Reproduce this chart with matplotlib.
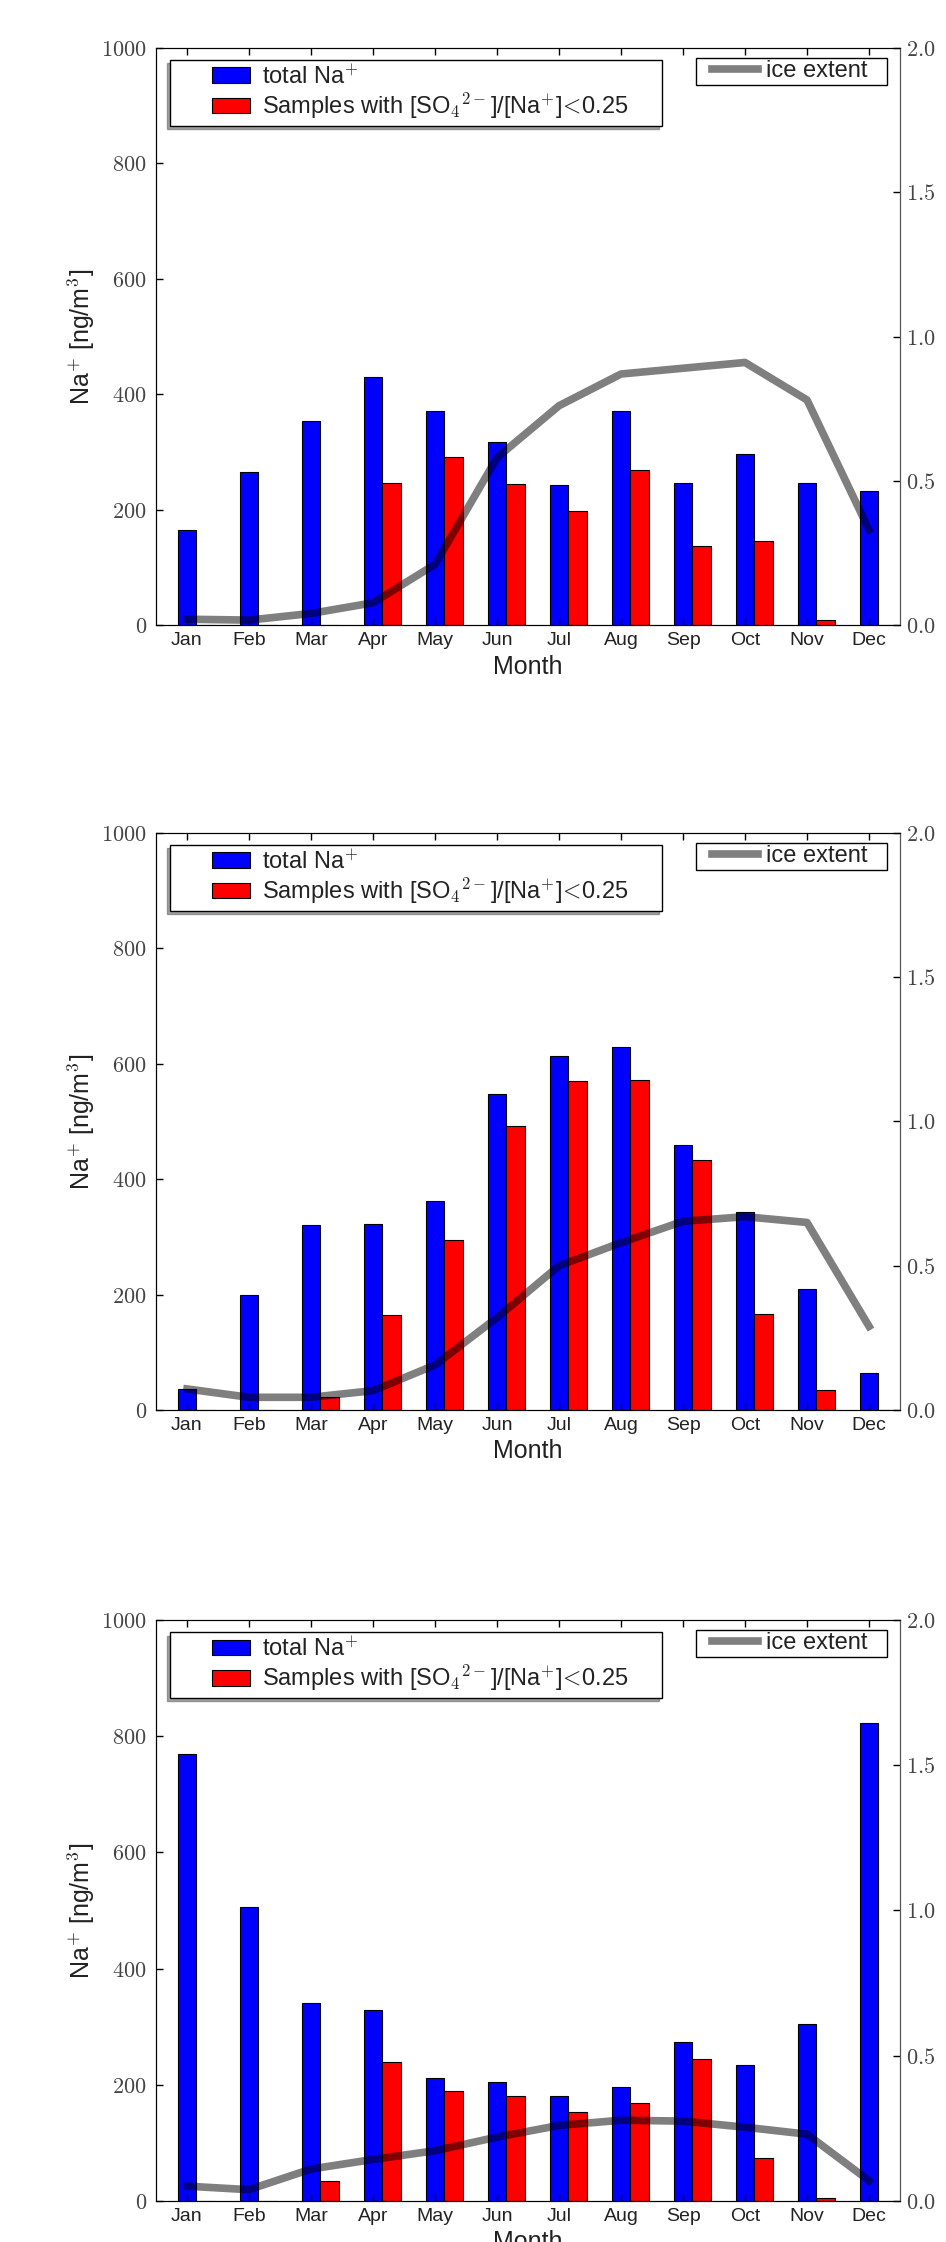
import matplotlib
matplotlib.use('Agg')
import matplotlib.pyplot as plt
from matplotlib.container import BarContainer
from matplotlib.lines import Line2D
from matplotlib.legend_handler import HandlerPatch, HandlerLine2D, update_from_first_child
from matplotlib.ticker import FuncFormatter
import numpy as np

months = ['Jan', 'Feb', 'Mar', 'Apr', 'May', 'Jun',
          'Jul', 'Aug', 'Sep', 'Oct', 'Nov', 'Dec']

# top panel
na_total_1 = [164, 265, 353, 429, 371, 317, 242, 371, 246, 296, 246, 233]
na_low_1 = [0, 0, 0, 246, 292, 244, 198, 269, 137, 146, 8, 0]
ice_1 = [0.02, 0.017, 0.04, 0.077, 0.21, 0.58, 0.76, 0.87, 0.89, 0.91, 0.78, 0.33]

# middle panel
na_total_2 = [37, 200, 321, 323, 363, 548, 614, 629, 460, 344, 210, 64]
na_low_2 = [0, 0, 22, 165, 294, 493, 571, 572, 433, 167, 35, 0]
ice_2 = [0.073, 0.044, 0.044, 0.067, 0.156, 0.32, 0.50, 0.58, 0.654, 0.67, 0.65, 0.29]

# bottom panel
na_total_3 = [769, 506, 340, 328, 211, 205, 180, 197, 273, 234, 305, 823]
na_low_3 = [0, 0, 35, 240, 190, 180, 153, 168, 244, 74, 5, 0]
ice_3 = [0.051, 0.039, 0.11, 0.143, 0.173, 0.22, 0.26, 0.278, 0.275, 0.254, 0.23, 0.07]

panels = [(na_total_1, na_low_1, ice_1),
          (na_total_2, na_low_2, ice_2),
          (na_total_3, na_low_3, ice_3)]

plt.rcParams['font.family'] = ['Liberation Sans', 'DejaVu Sans']
plt.rcParams['mathtext.fontset'] = 'cm'

fig = plt.figure(figsize=(9.46, 22.42), dpi=100)
boxes = [[0.1649, 0.72123, 0.7865, 0.25736],
         [0.1649, 0.37110, 0.7865, 0.25736],
         [0.1649, 0.01829, 0.7865, 0.25914]]

x = np.arange(len(months))
w = 0.3

for (total, low, ice), box in zip(panels, boxes):
    ax = fig.add_axes(box)
    ax.bar(x, total, w, color='blue', edgecolor='k', linewidth=0.8,
           label='total Na$^{+}$')
    ax.bar(x + w, low, w, color='red', edgecolor='k', linewidth=0.8,
           label=r'Samples with [SO$_4$$^{2-}$]/[Na$^{+}$]$\!<\!$0.25')
    ax.set_xlim(-0.5, 11.5)
    ax.set_ylim(0, 1000)
    ax.set_xticks(x)
    ax.set_xticklabels(months)
    ax.set_yticks(range(0, 1001, 200))
    ax.yaxis.set_major_formatter(FuncFormatter(lambda v, p: '$%d$' % v))
    ax.tick_params(direction='in', length=5, width=1, top=True, right=False)
    ax.tick_params(axis='x', labelsize=14, pad=5, labelcolor='#222222')
    ax.tick_params(axis='y', labelsize=16, pad=6.5, labelcolor='#444444')
    ax.set_xlabel('Month', fontsize=18, color='#222222', labelpad=4)
    ax.set_ylabel('Na$^{+}$ [ng/m$^{3}$]', fontsize=18, color='#222222', labelpad=3)
    for s in ax.spines.values():
        s.set_color('#222222')

    ax2 = ax.twinx()
    ax2.plot(x, ice, color='k', alpha=0.5, linewidth=5.5, label='ice extent')
    ax2.set_ylim(0, 2.0)
    ax2.set_yticks(np.arange(0, 2.01, 0.5))
    ax2.yaxis.set_major_formatter(FuncFormatter(lambda v, p: '$%.1f$' % v))
    ax2.tick_params(axis='y', direction='in', length=5, width=1,
                    labelsize=16, pad=4.5, labelcolor='#444444')
    ax2.spines['right'].set_color('#555555')

    bar_handler = HandlerPatch(xpad=1.58, update_func=update_from_first_child)
    leg1 = ax.legend(loc='upper left', bbox_to_anchor=(0.0188, 0.9792, 0.6613, 0),
                     mode='expand', borderaxespad=0, borderpad=0.2,
                     fontsize=17, handlelength=3.19, handleheight=0.64,
                     handletextpad=0.5, labelspacing=0.1, fancybox=False,
                     framealpha=1, edgecolor='k', labelcolor='#222222',
                     shadow={'ox': -2.5, 'oy': -2.5},
                     handler_map={BarContainer: bar_handler})
    leg1.get_frame().set_linewidth(1)

    leg2 = ax2.legend(loc='upper left', bbox_to_anchor=(0.7258, 0.9827, 0.2567, 0),
                      mode='expand', borderaxespad=0, borderpad=0.1,
                      fontsize=17, handlelength=2.52, handletextpad=0.34,
                      fancybox=False, framealpha=1, edgecolor='k',
                      labelcolor='#222222',
                      handler_map={Line2D: HandlerLine2D(xpad=0.57)})
    leg2.get_frame().set_linewidth(1)

fig.savefig('out.png', dpi=100)
